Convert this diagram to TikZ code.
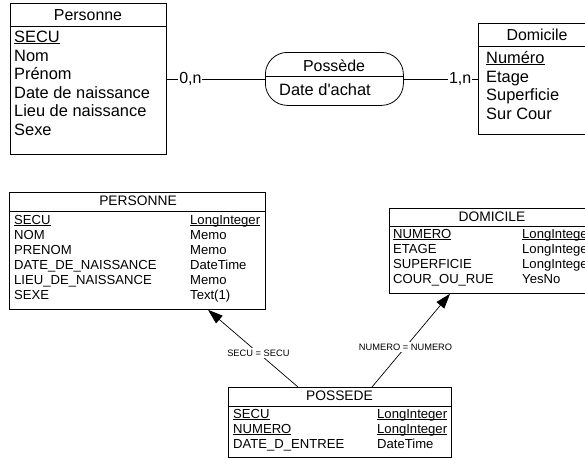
\documentclass[tikz,border=0pt]{standalone}
\usepackage{fontspec}
\setmainfont{Liberation Sans}
\usetikzlibrary{arrows.meta}
\newcommand\myul[1]{\setbox0\hbox{#1}\rlap{\rule[-1.7pt]{\wd0}{0.9pt}}\box0}
\tikzset{
  tbox/.style={draw, line width=0.8pt, anchor=north west, inner sep=0pt},
  sep/.style={line width=0.8pt},
  bigtxt/.style={font=\fontsize{16.4}{18}\selectfont, anchor=base west, inner sep=0pt},
  bigttl/.style={font=\fontsize{15.9}{18}\selectfont, anchor=base, inner sep=0pt},
  smtxt/.style={font=\fontsize{13.1}{15}\selectfont, anchor=base west, inner sep=0pt},
  smttl/.style={font=\fontsize{13.8}{15}\selectfont, anchor=base, inner sep=0pt},
  card/.style={font=\fontsize{16}{18}\selectfont, fill=white, inner sep=1pt},
  lnk/.style={line width=0.8pt},
  fk/.style={line width=0.7pt, -{Triangle[length=15pt,width=10pt]}},
  fklbl/.style={font=\fontsize{9.3}{11}\selectfont, fill=white, inner sep=1.5pt},
}
\begin{document}
\begin{tikzpicture}[x=1pt,y=-1pt]
\useasboundingbox (0,0) rectangle (585,459);
\clip (0,0) rectangle (585,459);

% ---------- Top: Personne ----------
\node[tbox, minimum width=156pt, minimum height=151pt] (pers) at (10,3) {};
\draw[sep] (pers.west |- 0,26) -- (pers.east |- 0,26);
\node[bigttl] (persT) at (88,20.5) {Personne};
\node[bigtxt] (pers1) at (14,42.3) {\myul{SECU}};
\node[bigtxt] (pers2) at (14,61) {Nom};
\node[bigtxt] (pers3) at (14,79.6) {Prénom};
\node[bigtxt] (pers4) at (14,98.2) {Date de naissance};
\node[bigtxt] (pers5) at (14,116.8) {Lieu de naissance};
\node[bigtxt] (pers6) at (14,135.4) {Sexe};

% ---------- Top: Possède ----------
\node[tbox, rounded corners=22pt, minimum width=138pt, minimum height=53pt] (poss) at (265,52) {};
\draw[sep] (poss.west |- 0,76) -- (poss.east |- 0,76);
\node[bigttl] (possT) at (334,71.7) {Possède};
\node[bigtxt] (poss1) at (279,95) {Date d\textquotesingle achat};

% ---------- Top: Domicile ----------
\node[tbox, minimum width=119pt, minimum height=111pt] (dom) at (478,23) {};
\draw[sep] (dom.west |- 0,46) -- (dom.east |- 0,46);
\node[bigttl] (domT) at (537,40.7) {Domicile};
\node[bigtxt] (dom1) at (486,63.3) {\myul{Numéro}};
\node[bigtxt] (dom2) at (486,82) {Etage};
\node[bigtxt] (dom3) at (486,100.7) {Superficie};
\node[bigtxt] (dom4) at (486,119.4) {Sur Cour};

% top connectors
\draw[lnk] (pers.east |- 0,79) -- node[card, pos=0.24] (c1) {0,n} (poss.west |- 0,79);
\draw[lnk] (poss.east |- 0,79) -- node[card, pos=0.76] (c2) {1,n} (dom.west |- 0,79);

% ---------- Bottom: PERSONNE ----------
\node[tbox, minimum width=256pt, minimum height=117pt] (tp) at (9,192) {};
\draw[sep] (tp.west |- 0,211) -- (tp.east |- 0,211);
\node[smttl] (tpT) at (138,205.7) {PERSONNE};
\node[smtxt] (tpa1) at (14,224) {\myul{SECU}};
\node[smtxt] (tpa2) at (14,239) {NOM};
\node[smtxt] (tpa3) at (14,254) {PRENOM};
\node[smtxt] (tpa4) at (14,269) {DATE\_DE\_NAISSANCE};
\node[smtxt] (tpa5) at (14,284) {LIEU\_DE\_NAISSANCE};
\node[smtxt] (tpa6) at (14,299) {SEXE};
\node[smtxt] (tpb1) at (190,224) {\myul{LongInteger}};
\node[smtxt] (tpb2) at (190,239) {Memo};
\node[smtxt] (tpb3) at (190,254) {Memo};
\node[smtxt] (tpb4) at (190,269) {DateTime};
\node[smtxt] (tpb5) at (190,284) {Memo};
\node[smtxt] (tpb6) at (190,299) {Text(1)};

% ---------- Bottom: DOMICILE ----------
\node[tbox, minimum width=206pt, minimum height=85pt] (td) at (389,208) {};
\draw[sep] (td.west |- 0,226) -- (td.east |- 0,226);
\node[smttl] (tdT) at (492,221.7) {DOMICILE};
\node[smtxt] (tda1) at (393,238.3) {\myul{NUMERO}};
\node[smtxt] (tda2) at (393,253.3) {ETAGE};
\node[smtxt] (tda3) at (393,268.3) {SUPERFICIE};
\node[smtxt] (tda4) at (393,283.3) {COUR\_OU\_RUE};
\node[smtxt] (tdb1) at (522,238.3) {\myul{LongInteger}};
\node[smtxt] (tdb2) at (522,253.3) {LongInteger};
\node[smtxt] (tdb3) at (522,268.3) {LongInteger};
\node[smtxt] (tdb4) at (522,283.3) {YesNo};

% ---------- Bottom: POSSEDE ----------
\node[tbox, minimum width=223pt, minimum height=70pt] (tq) at (228,387) {};
\draw[sep] (tq.west |- 0,406) -- (tq.east |- 0,406);
\node[smttl] (tqT) at (339.5,400.7) {POSSEDE};
\node[smtxt] (tqa1) at (233,418.3) {\myul{SECU}};
\node[smtxt] (tqa2) at (233,433.3) {\myul{NUMERO}};
\node[smtxt] (tqa3) at (233,448.3) {DATE\_D\_ENTREE};
\node[smtxt] (tqb1) at (377,418.3) {\myul{LongInteger}};
\node[smtxt] (tqb2) at (377,433.3) {\myul{LongInteger}};
\node[smtxt] (tqb3) at (377,448.3) {DateTime};

% foreign-key links
\coordinate (s1) at (tq.north -| 298,0);
\coordinate (e1) at (tp.south -| 208,0);
\coordinate (s2) at (tq.north -| 372,0);
\coordinate (e2) at (td.south -| 450,0);
\draw[fk] (s1) -- node[fklbl, pos=0.44] (l1) {SECU = SECU} (e1);
\draw[fk] (s2) -- node[fklbl, pos=0.43] (l2) {NUMERO = NUMERO} (e2);
\end{tikzpicture}
\end{document}
